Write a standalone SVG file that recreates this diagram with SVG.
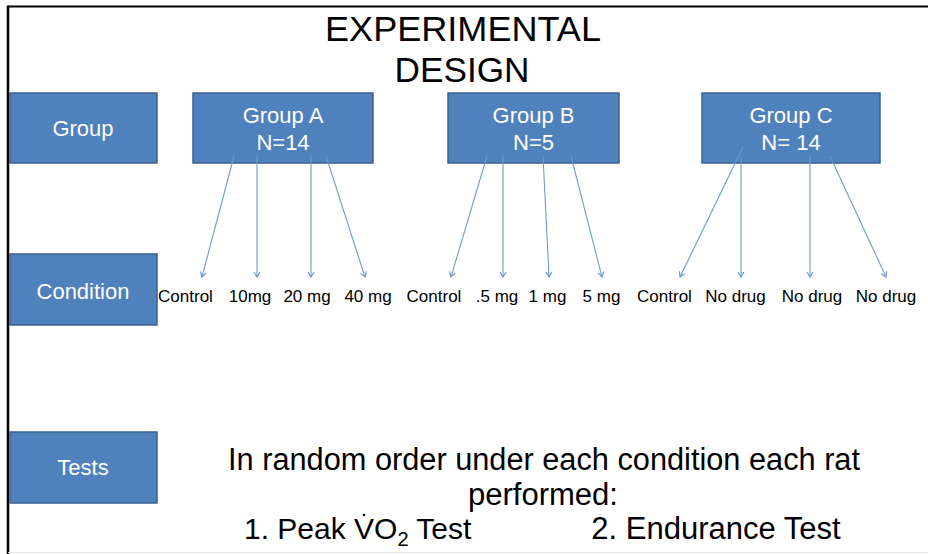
<svg xmlns="http://www.w3.org/2000/svg" width="928" height="554" viewBox="0 0 928 554">
<defs>
<marker id="ah" markerWidth="8" markerHeight="8" refX="6" refY="4" orient="auto" markerUnits="userSpaceOnUse">
<path d="M1,1 L6,4 L1,7" fill="none" stroke="#6F9BD1" stroke-width="1.2"/>
</marker>
</defs>
<style>
.box{fill:#4F81BD;stroke:#3B6190;stroke-width:1.5}
.wt{fill:#FFFFFF;font-family:"Liberation Sans",Arial,sans-serif;font-size:22px;text-anchor:middle}
.lbl{fill:#000000;font-family:"Liberation Sans",Arial,sans-serif;font-size:17px;text-anchor:middle}
.big{fill:#000000;font-family:"Liberation Sans",Arial,sans-serif;font-size:31px;text-anchor:middle}
.bigs{fill:#000000;font-family:"Liberation Sans",Arial,sans-serif;font-size:30px;text-anchor:start}
.title{fill:#000000;font-family:"Liberation Sans",Arial,sans-serif;font-size:35px;text-anchor:middle}
.arr{stroke:#6F9BD1;stroke-width:1.1;fill:none;marker-end:url(#ah)}
</style>
<rect x="0" y="0" width="928" height="554" fill="#FFFFFF"/>
<g id="frame">
<line x1="8" y1="6.5" x2="928" y2="6.5" stroke="#000000" stroke-width="2"/>
<line x1="8" y1="5.5" x2="8" y2="554" stroke="#000000" stroke-width="2.5"/>
<line x1="8" y1="552.5" x2="928" y2="552.5" stroke="#E6E6E6" stroke-width="1"/>
</g>
<g id="title">
<text class="title" x="463" y="41" textLength="276" lengthAdjust="spacingAndGlyphs">EXPERIMENTAL</text>
<text class="title" x="462" y="82" textLength="135" lengthAdjust="spacingAndGlyphs">DESIGN</text>
</g>
<g id="row-group">
<rect class="box" x="10" y="93" width="147" height="70"/>
<text class="wt" x="83" y="136">Group</text>
</g>
<g id="row-condition">
<rect class="box" x="10" y="254" width="147" height="71"/>
<text class="wt" x="83" y="299">Condition</text>
</g>
<g id="row-tests">
<rect class="box" x="10" y="432" width="147" height="71"/>
<text class="wt" x="83" y="475">Tests</text>
</g>
<g id="group-a">
<rect class="box" x="193" y="93" width="180" height="70"/>
<text class="wt" x="283" y="123">Group A</text>
<text class="wt" x="283" y="150">N=14</text>
</g>
<g id="group-b">
<rect class="box" x="448" y="93" width="171" height="70"/>
<text class="wt" x="533.5" y="123">Group B</text>
<text class="wt" x="533.5" y="150">N=5</text>
</g>
<g id="group-c">
<rect class="box" x="702" y="93" width="178" height="70"/>
<text class="wt" x="791" y="123">Group C</text>
<text class="wt" x="791" y="150">N= 14</text>
</g>
<g id="connectors">
<line class="arr" x1="234" y1="156" x2="202" y2="277"/>
<line class="arr" x1="257" y1="156" x2="257" y2="277"/>
<line class="arr" x1="311" y1="156" x2="311" y2="277"/>
<line class="arr" x1="326" y1="156" x2="365" y2="277"/>
<line class="arr" x1="487" y1="156" x2="451" y2="277"/>
<line class="arr" x1="503" y1="156" x2="503" y2="277"/>
<line class="arr" x1="543" y1="156" x2="549" y2="277"/>
<line class="arr" x1="571" y1="156" x2="602" y2="277"/>
<line class="arr" x1="743" y1="147" x2="680" y2="277"/>
<line class="arr" x1="741" y1="156" x2="741" y2="277"/>
<line class="arr" x1="810" y1="156" x2="810" y2="277"/>
<line class="arr" x1="830" y1="156" x2="886" y2="277"/>
</g>
<g id="conditions">
<text class="lbl" x="185.5" y="302">Control</text>
<text class="lbl" x="250" y="302">10mg</text>
<text class="lbl" x="307" y="302">20 mg</text>
<text class="lbl" x="368" y="302">40 mg</text>
<text class="lbl" x="434" y="302">Control</text>
<text class="lbl" x="497" y="302">.5 mg</text>
<text class="lbl" x="547.5" y="302">1 mg</text>
<text class="lbl" x="601.5" y="302">5 mg</text>
<text class="lbl" x="664.5" y="302">Control</text>
<text class="lbl" x="735.5" y="302">No drug</text>
<text class="lbl" x="812" y="302">No drug</text>
<text class="lbl" x="886" y="302">No drug</text>
</g>
<g id="tests-text">
<text class="big" x="544" y="470" textLength="632" lengthAdjust="spacingAndGlyphs">In random order under each condition each rat</text>
<text class="big" x="543" y="505" textLength="150" lengthAdjust="spacingAndGlyphs">performed:</text>
<text class="bigs" x="244" y="539">1. Peak VO<tspan font-size="20" dy="7">2</tspan><tspan dy="-7"> Test</tspan></text>
<text class="big" x="716" y="539">2. Endurance Test</text>
<circle cx="364" cy="515" r="1.3" fill="#000000"/>
</g>
</svg>
